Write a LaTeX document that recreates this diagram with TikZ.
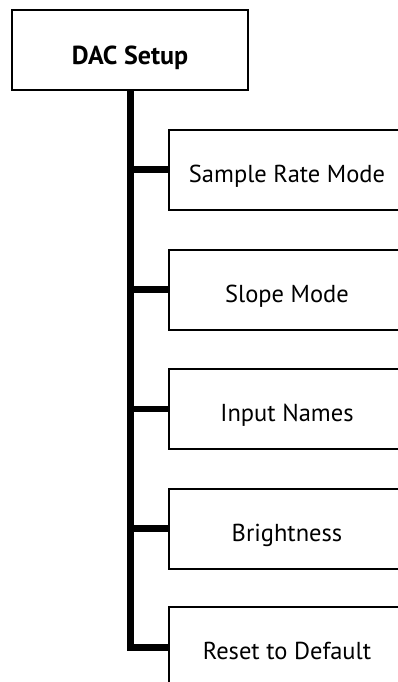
\documentclass[tikz,border=0pt]{standalone}
\usepackage{fontspec}
\setmainfont{PT Sans}
\begin{document}
\begin{tikzpicture}[x=1pt,y=-1pt,
  box/.style={draw=black,line width=2pt,fill=white,minimum width=236pt,minimum height=80pt,inner sep=0pt,text height=25pt,text depth=0pt,font=\fontsize{24.5}{28}\selectfont},
  topbox/.style={draw=black,line width=2pt,fill=white,minimum width=236pt,minimum height=80pt,inner sep=0pt,text height=29pt,text depth=0pt,font=\fontsize{26}{30}\selectfont\bfseries},
  conn/.style={line width=6.7pt,draw=black}]
\useasboundingbox (0,0) rectangle (398,682);
\clip (0,0) rectangle (398,682);
\node[topbox] (top) at (130,50) {DAC Setup};
\node[box] (b1) at (287,169.5) {Sample Rate Mode};
\node[box] (b2) at (287,289.5) {Slope Mode};
\node[box] (b3) at (287,409) {Input Names};
\node[box] (b4) at (287,528.5) {Brightness};
\node[box] (b5) at (287,647.3) {Reset to Default};
\coordinate (corner) at (130.7,647.3);
\draw[conn] (top.south -| corner) -- ([yshift=3.35pt]corner);
\draw[conn] ([xshift=-3.35pt]corner) -- (b5.west);
\foreach \n in {b1,b2,b3,b4} \draw[conn] (\n.west -| corner) -- (\n.west);
\end{tikzpicture}
\end{document}
